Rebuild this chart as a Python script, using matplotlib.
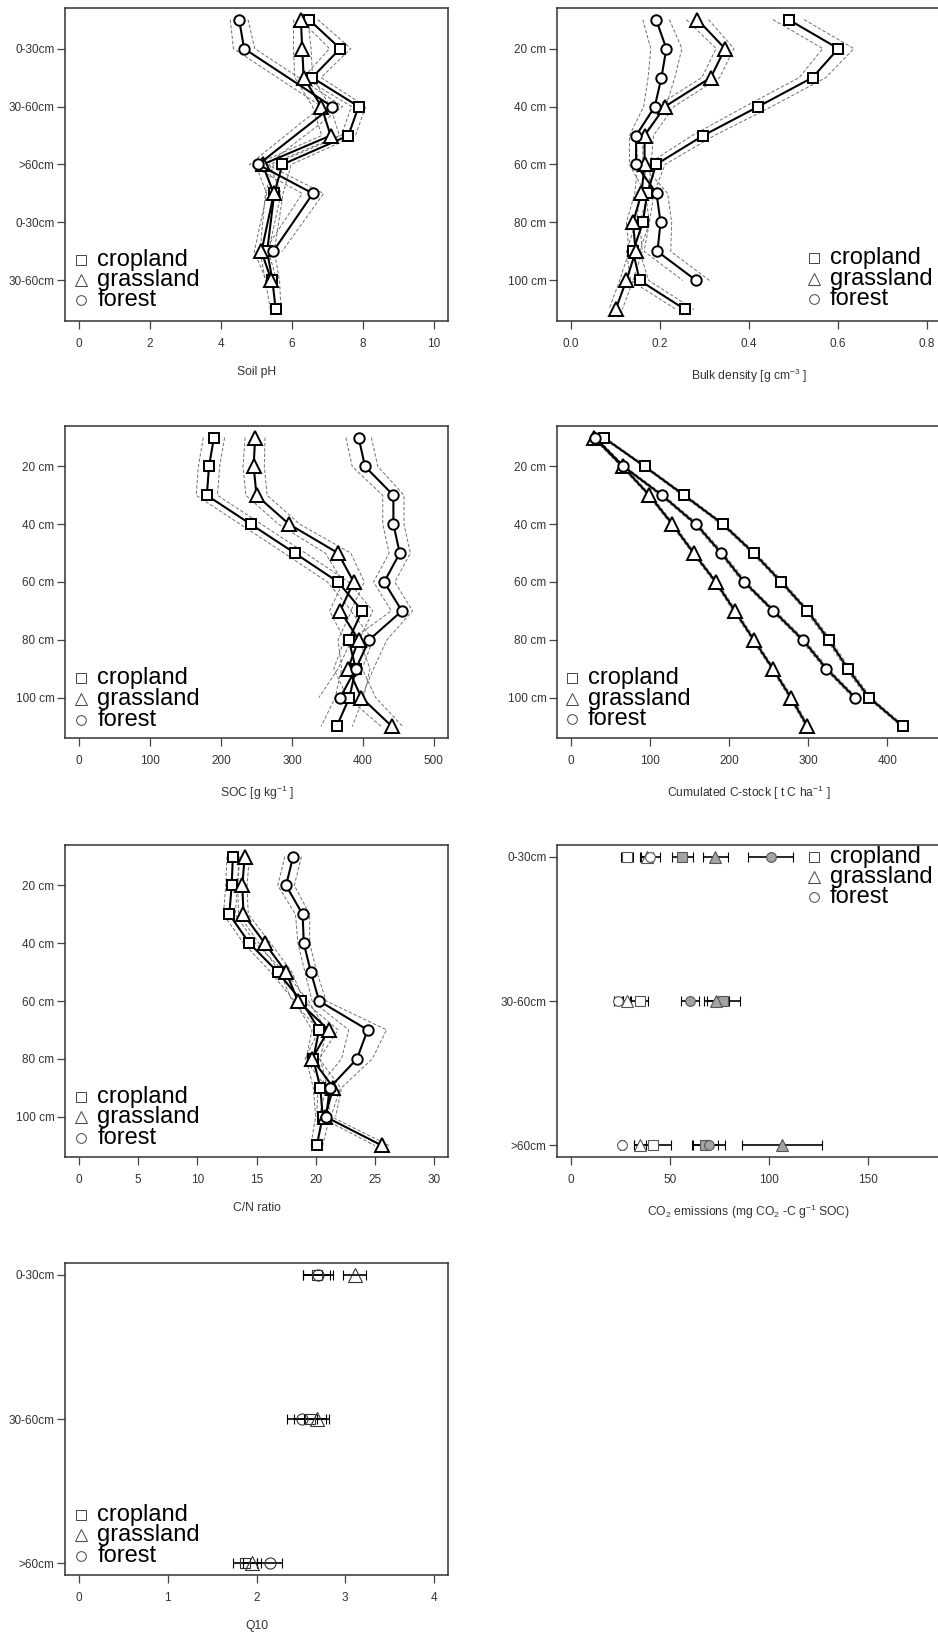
import numpy as np
import matplotlib
matplotlib.use("Agg")
import matplotlib.pyplot as plt

plt.rcParams['font.family'] = ['Liberation Sans', 'DejaVu Sans']
plt.rcParams['mathtext.fontset'] = 'custom'
plt.rcParams['mathtext.rm'] = 'Liberation Sans'
plt.rcParams['mathtext.it'] = 'Liberation Sans:italic'

nan = np.nan
depth = [10, 20, 30, 40, 50, 60, 70, 80, 90, 100, 110]
depth_ticks = [20, 40, 60, 80, 100]
depth_labels = ['20 cm', '40 cm', '60 cm', '80 cm', '100 cm']
ph_labels = ['0-30cm', '30-60cm', '>60cm', '0-30cm', '30-60cm']
layers = ['0-30cm', '30-60cm', '>60cm']
land_uses = ['cropland', 'grassland', 'forest']

# soil pH
ph_crop = [6.48, 7.36, 6.57, 7.88, 7.59, 5.73, 5.5, nan, 5.3, 5.45, 5.54]
ph_grass = [6.25, 6.29, 6.33, 6.83, 7.09, 5.17, 5.49, nan, 5.14, 5.42, nan]
ph_forest = [4.51, 4.65, nan, 7.13, nan, 5.05, 6.59, nan, 5.47, nan, nan]
ph_crop_se = [0.25, 0.3, 0.25, 0.2, 0.2, 0.25, 0.25, nan, 0.2, 0.2, 0.15]
ph_grass_se = [0.2, 0.25, 0.25, 0.25, 0.25, 0.2, 0.2, nan, 0.2, 0.15, nan]
ph_forest_se = [0.25, 0.3, nan, 0.3, nan, 0.25, 0.3, nan, 0.25, nan, nan]

# bulk density
bd_crop = [0.489, 0.601, 0.543, 0.421, 0.297, 0.191, 0.171, 0.161, 0.139, 0.154, 0.256]
bd_grass = [0.284, 0.346, 0.314, 0.211, 0.165, 0.165, 0.158, 0.139, 0.145, 0.124, 0.100]
bd_forest = [0.191, 0.214, 0.203, 0.188, 0.146, 0.146, 0.192, 0.201, 0.194, 0.281, nan]
bd_crop_se = [0.035, 0.035, 0.03, 0.03, 0.025, 0.02, 0.015, 0.015, 0.015, 0.02, 0.02]
bd_grass_se = [0.025, 0.02, 0.02, 0.02, 0.02, 0.015, 0.015, 0.015, 0.015, 0.015, 0.015]
bd_forest_se = [0.03, 0.035, 0.03, 0.025, 0.015, 0.015, 0.025, 0.025, 0.03, 0.03, nan]

# SOC
soc_crop = [190, 183, 180, 242, 304, 365, 399, 380, 390, 381, 363]
soc_grass = [248, 246, 250, 296, 365, 387, 368, 394, 379, 398, 441]
soc_forest = [394, 403, 443, 443, 452, 430, 455, 409, 390, 368, nan]
soc_crop_se = [15, 15, 15, 15, 15, 15, 15, 15, 20, 20, 22]
soc_grass_se = [14, 15, 15, 15, 18, 15, 15, 20, 20, 20, 15]
soc_forest_se = [18, 18, 15, 15, 15, 15, 15, 25, 25, 30, nan]

# cumulated C stock
cs_crop = [41, 93, 143, 192, 231, 266, 299, 326, 350, 377, 420]
cs_grass = [29, 65, 99, 128, 155, 183, 207, 231, 255, 278, 299]
cs_forest = [30, 66, 115, 158, 190, 219, 256, 293, 323, 359, nan]
cs_crop_se = [2, 2, 2.5, 2.5, 2.5, 2.5, 2.5, 2.5, 2.5, 2.5, 2.5]
cs_grass_se = [2, 2, 2, 2, 2, 2, 2, 2, 2, 2, 2]
cs_forest_se = [2, 2, 2.5, 2.5, 2.5, 2.5, 2.5, 2.5, 2.5, 2.5, nan]

# C/N ratio
cn_crop = [13.0, 12.9, 12.7, 14.4, 16.8, 18.8, 20.3, 19.8, 20.4, 20.6, 20.1]
cn_grass = [14.0, 13.8, 13.9, 15.7, 17.5, 18.5, 21.1, 19.7, 21.5, 20.8, 25.6]
cn_forest = [18.1, 17.5, 18.9, 19.0, 19.6, 20.3, 24.4, 23.5, 21.2, 20.9, nan]
cn_crop_se = [0.5, 0.5, 0.5, 0.5, 0.6, 0.6, 0.6, 0.6, 0.6, 0.6, 0.5]
cn_grass_se = [0.4, 0.4, 0.4, 0.5, 0.5, 0.5, 0.8, 0.6, 0.6, 0.5, 0.6]
cn_forest_se = [0.7, 0.7, 0.6, 0.5, 0.5, 0.6, 1.6, 1.3, 1.0, 0.8, nan]

# CO2 emissions (open = low, filled = high temperature)
co2_open_crop = [28.3, 34.6, 41.3]
co2_open_grass = [38.5, 28.0, 34.9]
co2_open_forest = [40.0, 23.5, 25.8]
co2_open_crop_err = [3.2, 4.4, 9.3]
co2_open_grass_err = [3.0, 2.0, 3.0]
co2_open_forest_err = [5.0, 2.0, 1.0]
co2_fill_crop = [56.3, 77.0, 67.6]
co2_fill_grass = [73.0, 73.5, 106.6]
co2_fill_forest = [101.0, 60.0, 69.8]
co2_fill_crop_err = [5.5, 8.5, 6.5]
co2_fill_grass_err = [6.5, 6.5, 20.3]
co2_fill_forest_err = [11.3, 4.5, 8.0]

# Q10
q10_crop = [2.68, 2.60, 1.87]
q10_grass = [3.11, 2.68, 1.95]
q10_forest = [2.69, 2.51, 2.15]
q10_crop_err = [0.15, 0.18, 0.14]
q10_grass_err = [0.13, 0.14, 0.10]
q10_forest_err = [0.17, 0.17, 0.14]

markers = ['s', '^', 'o']
sizes = [7, 9.5, 7.5]
leg_sizes = [6.5, 9, 7]

W, H = 938, 1637
fig = plt.figure(figsize=(W / 100, H / 100), dpi=100)


def axes_px(x0, x1, y0, y1):
    return fig.add_axes([x0 / W, 1 - y1 / H, (x1 - x0) / W, (y1 - y0) / H])


def style(ax, lo, hi, step, fmt=None):
    pad = 0.04 * (hi - lo)
    ax.set_xlim(lo - pad, hi + pad)
    ticks = np.arange(lo, hi + step / 2, step)
    ax.set_xticks(ticks)
    if fmt:
        ax.set_xticklabels([fmt % t for t in ticks])
    for sp in ax.spines.values():
        sp.set_color('#333333')
        sp.set_linewidth(1.1)
    ax.tick_params(axis='both', direction='out', length=5.5, width=0.9,
                   colors='#444444', labelcolor='#333333', labelsize=8.5)
    ax.tick_params(axis='x', pad=6.5)
    ax.tick_params(axis='y', pad=2)


def profile(ax, series, ses):
    d = np.array(depth, dtype=float)
    for vals, se in zip(series, ses):
        v = np.array(vals, dtype=float)
        s = np.array(se, dtype=float)
        ok = ~np.isnan(v)
        for sign in (-1, 1):
            ax.plot(v[ok] + sign * s[ok], d[ok], ls=(0, (3.5, 2)), color='#707070', lw=0.7)
    for vals, m, ms in zip(series, markers, sizes):
        v = np.array(vals, dtype=float)
        ok = ~np.isnan(v)
        ax.plot(v[ok], d[ok], color='k', lw=1.5, marker=m, ms=ms,
                mfc='w', mec='k', mew=1.4)
    ax.set_ylim(114, 6)
    ax.set_yticks(depth_ticks)


def legend(ax, x, ys):
    for lab, m, ms, y in zip(land_uses, markers, leg_sizes, ys):
        ax.plot([x], [y], transform=ax.transAxes, marker=m, ms=ms, mfc='w',
                mec='#444444', mew=0.7, clip_on=False, ls='none')
        ax.text(x + 0.042, y, lab, transform=ax.transAxes, fontsize=17,
                va='center', ha='left')


def xlab(ax, text):
    ax.set_xlabel(text, fontsize=8.7, color='#333333', labelpad=12)


LX = (65, 448)
RX = (557, 941)
rows = [(8, 321), (426, 738), (845, 1157), (1263, 1575)]

# Soil pH
ax = axes_px(LX[0], LX[1], *rows[0])
profile(ax, [ph_crop, ph_grass, ph_forest], [ph_crop_se, ph_grass_se, ph_forest_se])
ax.set_yticklabels(ph_labels)
style(ax, 0, 10, 2)
xlab(ax, 'Soil pH')
legend(ax, 0.042, [0.195, 0.131, 0.067])

# Bulk density
ax = axes_px(RX[0], RX[1], *rows[0])
profile(ax, [bd_crop, bd_grass, bd_forest], [bd_crop_se, bd_grass_se, bd_forest_se])
ax.set_yticklabels(depth_labels)
style(ax, 0, 0.8, 0.2, '%.1f')
xlab(ax, 'Bulk density [g cm$^{-3}$ ]')
legend(ax, 0.669, [0.201, 0.134, 0.070])

# SOC
ax = axes_px(LX[0], LX[1], *rows[1])
profile(ax, [soc_crop, soc_grass, soc_forest], [soc_crop_se, soc_grass_se, soc_forest_se])
ax.set_yticklabels(depth_labels)
style(ax, 0, 500, 100)
xlab(ax, 'SOC [g kg$^{-1}$ ]')
legend(ax, 0.042, [0.192, 0.125, 0.058])

# Cumulated C-stock
ax = axes_px(RX[0], RX[1], *rows[1])
profile(ax, [cs_crop, cs_grass, cs_forest], [cs_crop_se, cs_grass_se, cs_forest_se])
ax.set_yticklabels(depth_labels)
style(ax, 0, 450, 100)
ax.set_xlim(-18, 468)
ax.set_xticks([0, 100, 200, 300, 400])
xlab(ax, 'Cumulated C-stock [ t C ha$^{-1}$ ]')
legend(ax, 0.039, [0.192, 0.125, 0.061])

# C/N ratio
ax = axes_px(LX[0], LX[1], *rows[2])
profile(ax, [cn_crop, cn_grass, cn_forest], [cn_crop_se, cn_grass_se, cn_forest_se])
ax.set_yticklabels(depth_labels)
style(ax, 0, 30, 5)
xlab(ax, 'C/N ratio')
legend(ax, 0.042, [0.192, 0.128, 0.061])

# CO2 emissions
ax = axes_px(RX[0], RX[1], *rows[2])
ypos = [1, 2, 3]
for vals, err, m, ms in zip([co2_open_crop, co2_open_grass, co2_open_forest],
                            [co2_open_crop_err, co2_open_grass_err, co2_open_forest_err],
                            markers, leg_sizes):
    ax.errorbar(vals, ypos, xerr=err, fmt=m, ms=ms, mfc='w', mec='#555555', mew=0.8,
                ecolor='k', elinewidth=1.2, capsize=3.5, capthick=1.2)
for vals, err, m, ms in zip([co2_fill_crop, co2_fill_grass, co2_fill_forest],
                            [co2_fill_crop_err, co2_fill_grass_err, co2_fill_forest_err],
                            markers, leg_sizes):
    ax.errorbar(vals, ypos, xerr=err, fmt=m, ms=ms, mfc='#a3a3a3', mec='#555555', mew=0.8,
                ecolor='k', elinewidth=1.2, capsize=3.5, capthick=1.2)
ax.set_ylim(3.08, 0.92)
ax.set_yticks(ypos)
ax.set_yticklabels(layers)
style(ax, 0, 180, 50)
ax.set_xlim(-7.2, 187.2)
ax.set_xticks([0, 50, 100, 150])
xlab(ax, 'CO$_2$ emissions (mg CO$_2$ -C g$^{-1}$ SOC)')
legend(ax, 0.669, [0.962, 0.897, 0.833])

# Q10
ax = axes_px(LX[0], LX[1], *rows[3])
for vals, err, m, ms in zip([q10_crop, q10_grass, q10_forest],
                            [q10_crop_err, q10_grass_err, q10_forest_err],
                            markers, [7, 9.5, 8]):
    ax.errorbar(vals, ypos, xerr=err, fmt=m, ms=ms, mfc='none', mec='#333333', mew=0.8,
                ecolor='k', elinewidth=1.2, capsize=3.5, capthick=1.2)
ax.set_ylim(3.08, 0.92)
ax.set_yticks(ypos)
ax.set_yticklabels(layers)
style(ax, 0, 4, 1)
xlab(ax, 'Q10')
legend(ax, 0.042, [0.192, 0.128, 0.061])

fig.savefig('out.png', dpi=100)
